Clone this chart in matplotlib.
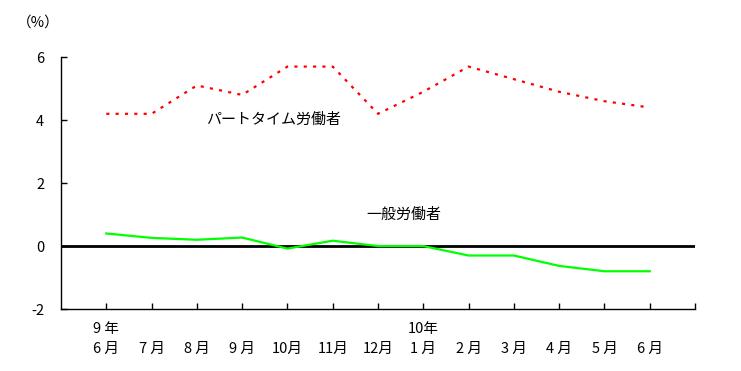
import matplotlib
matplotlib.use("Agg")
import matplotlib.pyplot as plt

plt.rcParams['font.family'] = ['Noto Sans CJK JP', 'DejaVu Sans']

# data
months = ["9 年\n6 月", "\n7 月", "\n8 月", "\n9 月", "\n10月", "\n11月", "\n12月",
          "10年\n1 月", "\n2 月", "\n3 月", "\n4 月", "\n5 月", "\n6 月"]
part_time = [4.2, 4.2, 5.1, 4.8, 5.7, 5.7, 4.2, 4.9, 5.7, 5.3, 4.9, 4.6, 4.4]
general = [0.4, 0.26, 0.2, 0.27, -0.08, 0.17, 0.0, 0.0, -0.3, -0.3, -0.63, -0.8, -0.8]
y_ticks = [-2, 0, 2, 4, 6]

x = list(range(len(months)))

fig = plt.figure(figsize=(7.41, 3.71), dpi=100)
ax = fig.add_axes([0.0823, 0.167, 0.8557, 0.679])

ax.axhline(0, color='black', linewidth=2, zorder=1)
ax.plot(x, general, color='#00ff00', linewidth=1.6, zorder=2)
ax.plot(x, part_time, color='red', linewidth=1.6, linestyle=(0, (1.4, 2.8)), zorder=3)

ax.set_xlim(-1, 13)
ax.set_ylim(-2, 6)
ax.set_xticks(list(range(14)))
ax.set_xticklabels(months + [""], fontsize=10.5, linespacing=1.55)
ax.set_yticks(y_ticks)
ax.set_yticklabels([str(v) for v in y_ticks], fontsize=10.5)
ax.tick_params(axis='both', direction='in', length=4, width=1)
ax.tick_params(axis='x', pad=9)
ax.tick_params(axis='y', pad=12)

for side in ['top', 'right']:
    ax.spines[side].set_visible(False)
for side in ['left', 'bottom']:
    ax.spines[side].set_linewidth(1)

ax.text(3.7, 4.0, "パートタイム労働者", ha='center', va='center', fontsize=10.8)
ax.text(6.58, 1.0, "一般労働者", ha='center', va='center', fontsize=10.8)
fig.text(38 / 741, 1 - 23 / 371, "（%）", ha='center', va='center', fontsize=10.5)

fig.savefig("out.png", dpi=100)
